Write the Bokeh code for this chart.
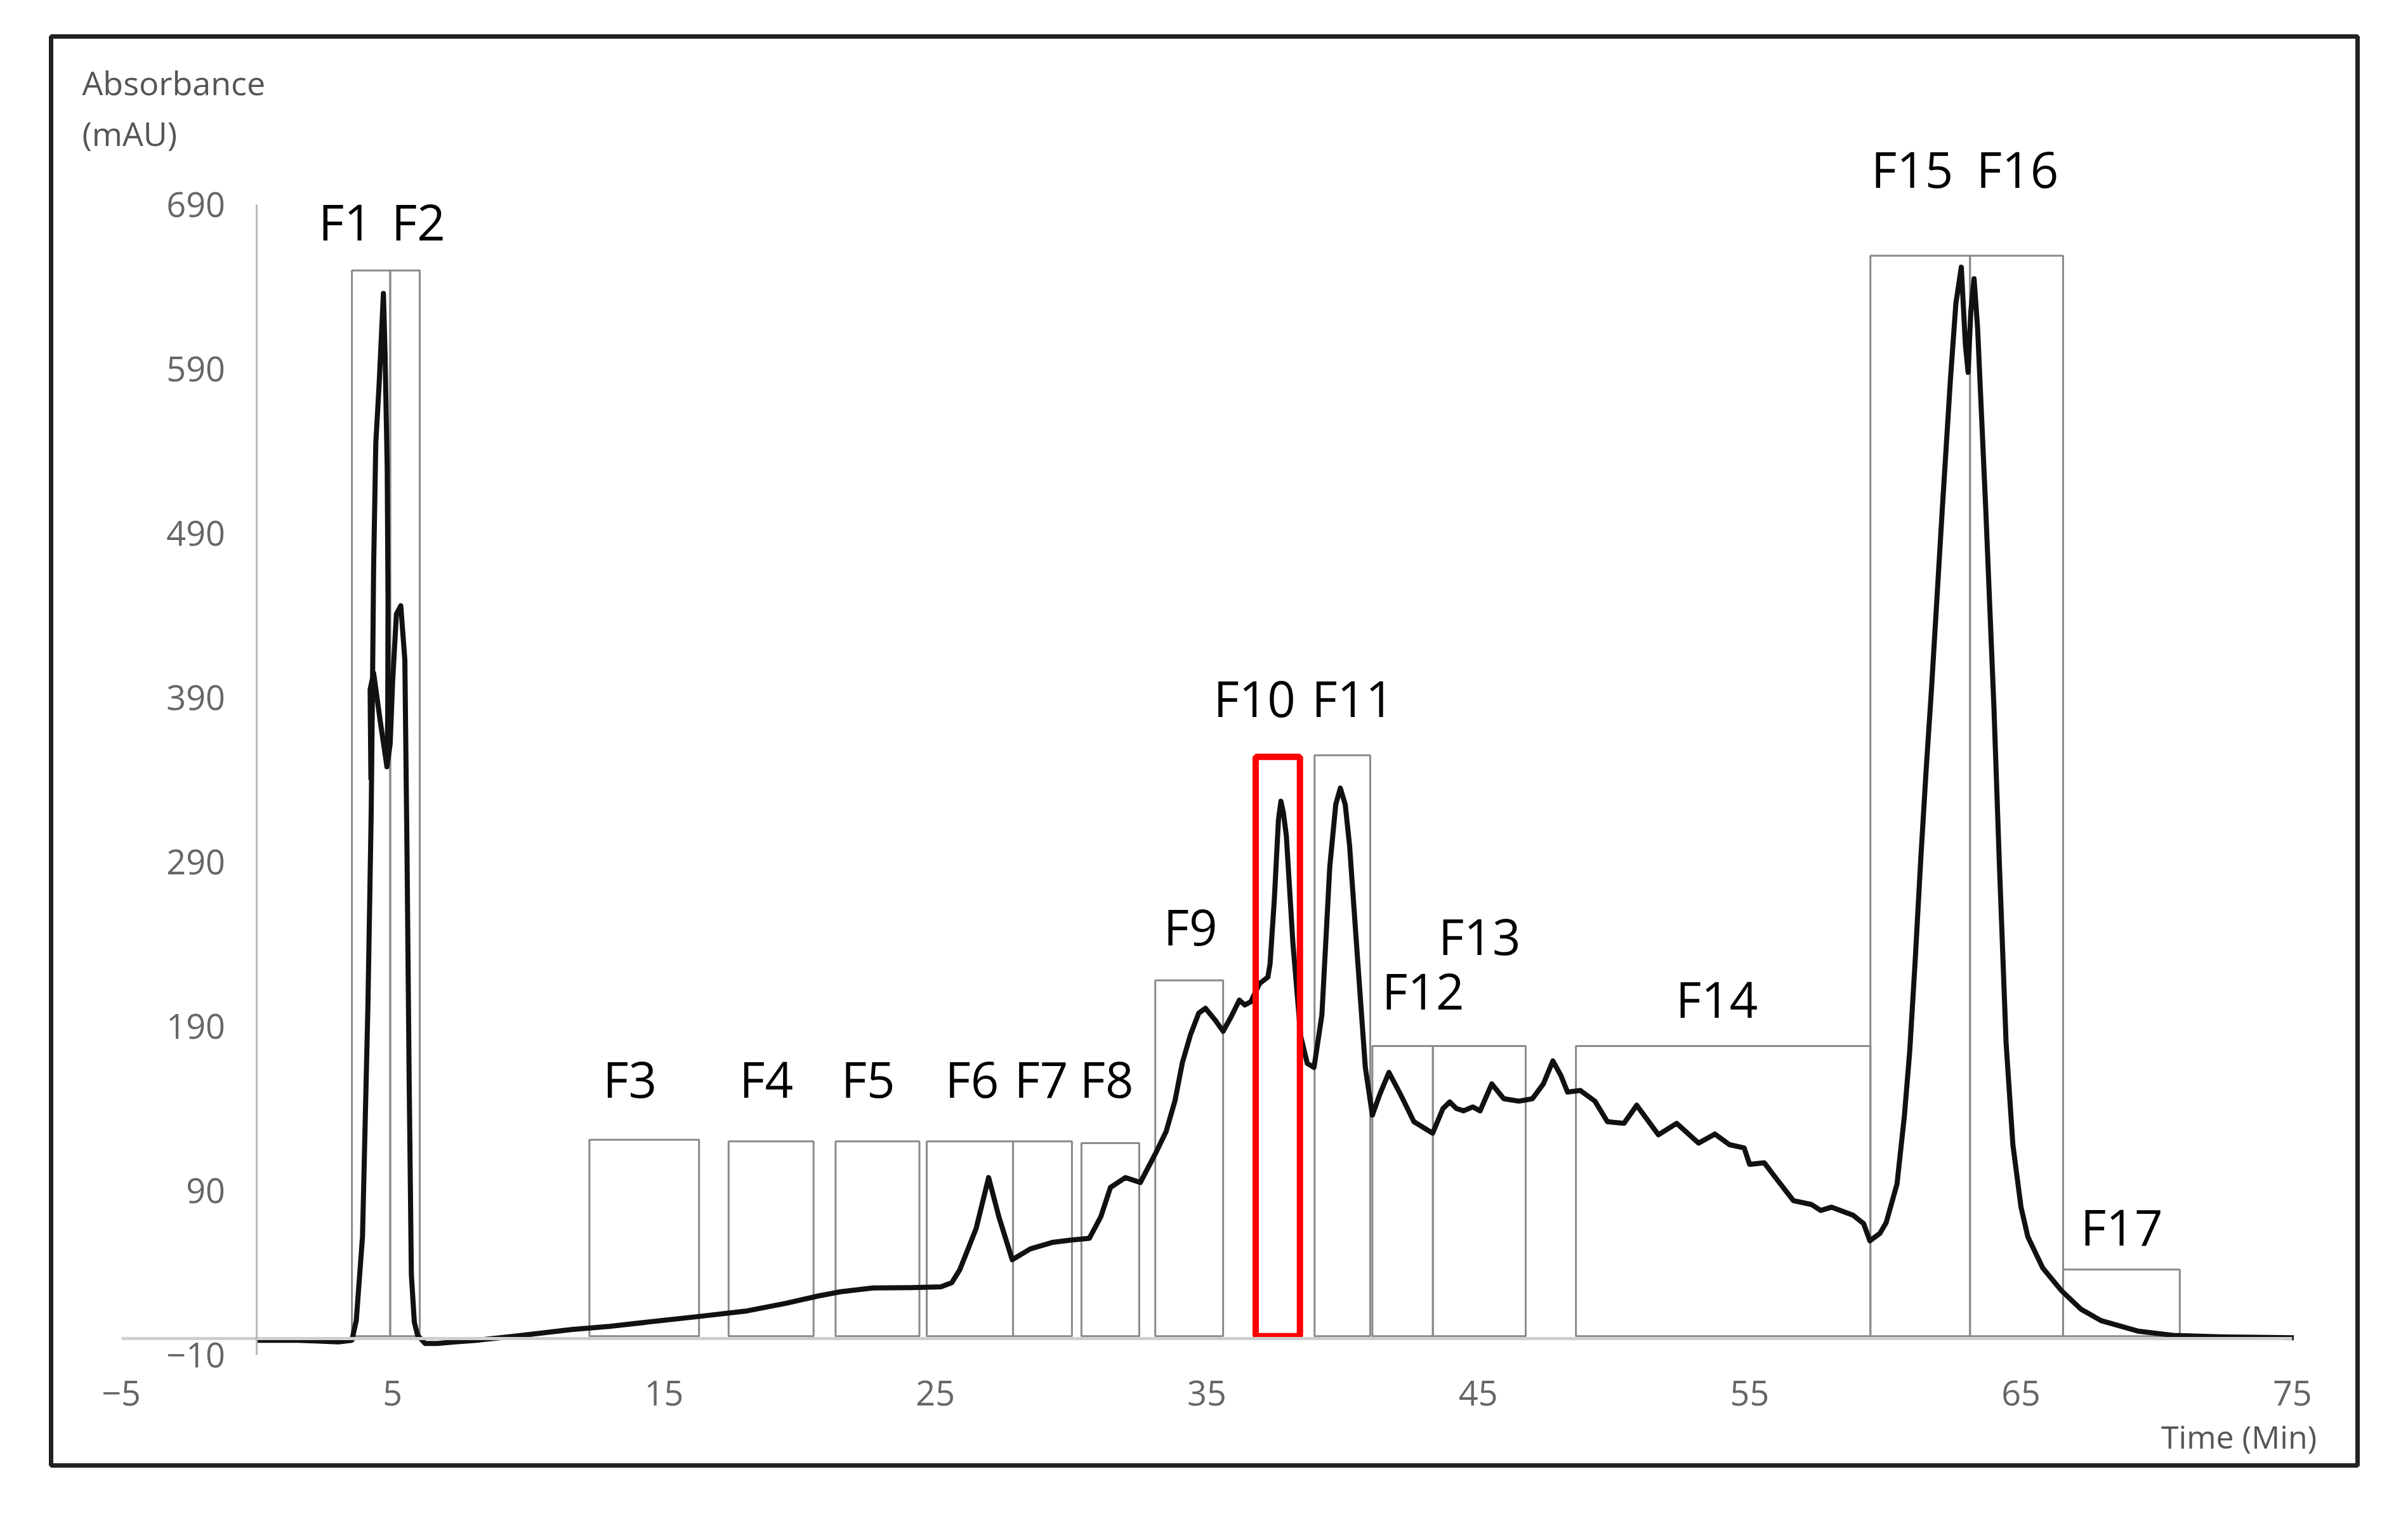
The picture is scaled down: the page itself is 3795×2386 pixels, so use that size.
from bokeh.plotting import figure
from bokeh.models import Range1d, LinearAxis, FixedTicker, Grid
from bokeh.embed import file_html
from bokeh.resources import INLINE
from bokeh.core.properties import value

# ---- chromatogram trace (time in min, absorbance in mAU) ----
time_min = [0.0, 1.5, 3.0, 3.5, 3.66, 3.89, 4.09, 4.21, 4.26, 4.3, 4.38, 4.5, 4.6, 4.66,
            4.72, 4.8, 4.83, 4.82, 4.79, 4.91, 5.0, 5.14, 5.3, 5.45, 5.53, 5.61, 5.69, 5.8,
            5.92, 6.2, 6.65, 7.3, 8.1, 9.5, 11.6, 13.0, 16.3, 18.0, 19.5, 20.7, 21.5, 22.7,
            24.1, 25.2, 25.6, 25.9, 26.5, 26.96, 27.34, 27.83, 28.5, 29.3, 30.0, 30.67, 31.09,
            31.45, 32.0, 32.55, 33.15, 33.5, 33.83, 34.1, 34.4, 34.7, 34.95, 35.3, 35.6, 35.9,
            36.2, 36.4, 36.62, 36.94, 37.25, 37.33, 37.49, 37.64, 37.73, 37.82, 37.93, 38.17,
            38.46, 38.7, 38.95, 39.24, 39.53, 39.75, 39.92, 40.1, 40.26, 40.55, 40.84,
            41.1, 41.37, 41.71, 42.14, 42.63, 43.32, 43.7, 43.95, 44.2, 44.46, 44.8,
            45.07, 45.5, 45.94, 46.5, 47.0, 47.4, 47.75, 48.05, 48.29, 48.76, 49.3,
            49.76, 50.37, 50.84, 51.64, 52.31, 53.12, 53.72, 54.26, 54.8, 55.0, 55.54,
            56.0, 56.61, 57.28, 57.62, 58.02, 58.82, 59.2, 59.43, 59.8, 60.03, 60.43,
            60.7, 60.9, 61.1, 61.3, 61.5, 61.7, 61.9, 62.1, 62.4, 62.6, 62.8, 62.95, 63.05,
            63.15, 63.27, 63.4, 63.55, 63.7, 63.85, 64.0, 64.2, 64.45, 64.7, 65.0, 65.25,
            65.8, 66.5, 67.2, 67.94, 69.3, 70.6, 72.5, 75.05]
absorbance = [-1, -1, -2, -1, 11, 62, 203, 320, 400, 470, 545, 580, 615, 636,
              600, 530, 450, 380, 348, 362, 400, 441, 446, 413, 296, 156, 39, 10,
              2, -3, -3, -2, -1, 1.5, 5.5, 7.5, 13.5, 16.7, 21.5, 26, 28.5, 30.8,
              31, 31.5, 34, 42, 67, 98, 74, 48, 54.6, 58.5, 60, 61, 74,
              92, 98, 95, 114, 126, 145, 168, 185, 198, 201, 194, 187, 196,
              206, 203, 205, 216, 220, 228, 268, 316, 327, 320, 306, 241,
              184, 167.5, 165, 197, 287, 325, 335, 325, 300, 232, 165,
              136, 148.5, 162, 148.5, 132, 125, 140, 144, 140, 138.6, 141,
              138.6, 155, 146, 144.5, 146, 155, 169, 160, 150, 151, 144.5,
              132, 131, 142, 124, 131, 119, 124.5, 118, 116, 106, 107,
              97, 84, 81.6, 78, 80, 75, 70, 59.5, 64, 70.5, 94,
              135, 175, 230, 290, 345, 395, 450, 505, 584, 630, 652, 605, 588,
              625, 645, 615, 560, 505, 445, 385, 290, 180, 118, 80, 62,
              43, 29, 18, 11, 4.6, 2, 1, 0.5]

# inner strand of the doubled F1 trace
strand_time = [4.2, 4.17, 4.3, 4.55, 4.79]
strand_abs = [340, 395, 405, 375, 348]

# ---- collected fractions ----
fractions = ["F1", "F2", "F3", "F4", "F5", "F6", "F7", "F8", "F9", "F10", "F11",
             "F12", "F13", "F14", "F15", "F16", "F17"]
frac_start = [3.5, 4.91, 12.25, 17.38, 21.32, 24.68, 27.86, 30.38, 33.1, 36.8, 38.97,
              41.1, 43.33, 48.6, 59.45, 63.12, 66.55]
frac_end = [4.91, 6.0, 16.29, 20.51, 24.41, 27.86, 30.03, 32.51, 35.6, 38.43, 41.02,
            43.33, 46.75, 59.45, 63.12, 66.55, 70.85]
frac_top = [650, 650, 121, 120, 120, 120, 120, 119, 218, 354, 355, 178, 178, 178,
            659, 659, 42]
highlight = "F10"

label_time = [3.26, 5.95, 13.74, 18.77, 22.52, 26.35, 28.9, 31.31, 34.4, 36.76, 40.38,
              42.97, 45.05, 53.79, 60.99, 64.87, 68.71]
label_abs = [680, 680, 158, 158, 158, 158, 158, 158, 251, 390, 390, 212, 245, 207,
             712, 712, 68]

x_ticks = [-5, 5, 15, 25, 35, 45, 55, 65, 75]
y_ticks = [-10, 90, 190, 290, 390, 490, 590, 690]

p = figure(width=3779, height=2370,
           x_range=Range1d(-7.585, 77.40), y_range=Range1d(-77.2, 792.4),
           x_axis_location=None, y_axis_location=None,
           toolbar_location=None, output_backend="svg",
           min_border_left=80, min_border_right=64,
           min_border_top=57, min_border_bottom=61)
p.outline_line_color = "#222222"
p.outline_line_width = 7
p.background_fill_color = "white"
p.border_fill_color = "white"
for r in p.center:
    if isinstance(r, Grid):
        r.visible = False

xaxis = LinearAxis(fixed_location=0, ticker=FixedTicker(ticks=x_ticks), bounds=(-5, 75))
yaxis = LinearAxis(fixed_location=0, ticker=FixedTicker(ticks=y_ticks), bounds=(-10, 690))
for ax, lw, lc in ((xaxis, 5, "#cfcfcf"), (yaxis, 3, "#b8b8b8")):
    ax.axis_line_color = lc
    ax.axis_line_width = lw
    ax.major_tick_line_color = None
    ax.minor_tick_line_color = None
    ax.major_label_text_font = "Open Sans"
    ax.major_label_text_color = "#666666"
xaxis.major_label_text_font_size = "54px"
xaxis.major_label_standoff = 60
yaxis.major_label_text_font_size = "54px"
yaxis.major_label_standoff = 44
p.add_layout(xaxis, "below")
p.add_layout(yaxis, "left")

gray_idx = [i for i, f in enumerate(fractions) if f != highlight]
red_idx = [i for i, f in enumerate(fractions) if f == highlight]

p.quad(left=[frac_start[i] for i in gray_idx], right=[frac_end[i] for i in gray_idx],
       top=[frac_top[i] for i in gray_idx], bottom=[1.5] * len(gray_idx),
       fill_color=None, line_color="#8a8a8a", line_width=3)

p.line(time_min, absorbance, line_color="#111111", line_width=8, line_join="round")
p.line(strand_time, strand_abs, line_color="#111111", line_width=8, line_join="round")

p.quad(left=[frac_start[i] for i in red_idx], right=[frac_end[i] for i in red_idx],
       top=[frac_top[i] for i in red_idx], bottom=[1.5] * len(red_idx),
       fill_color=None, line_color="#ff0000", line_width=10)

p.text(x=label_time, y=label_abs, text=fractions, text_font=value("Open Sans"),
       text_font_size="78px", text_align="center", text_baseline="middle",
       text_color="black")

p.text(x=[-6.44, -6.44], y=[764.6, 733.7], text=["Absorbance", "(mAU)"],
       text_font=value("Open Sans"), text_font_size="52px", text_align="left",
       text_baseline="middle", text_color="#555555")
p.text(x=[75.9], y=[-59.8], text=["Time (Min)"], text_font=value("Open Sans"),
       text_font_size="50px", text_align="right", text_baseline="middle",
       text_color="#555555")

open("out.html", "w").write(file_html(p, INLINE))
